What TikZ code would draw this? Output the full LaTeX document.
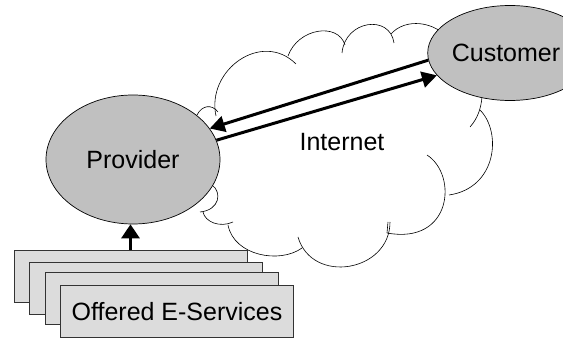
\documentclass[tikz,border=0pt]{standalone}
\usepackage{fontspec}
\setmainfont{Liberation Sans}
\usetikzlibrary{shapes.geometric,arrows.meta}
\definecolor{ellgray}{HTML}{C0C0C0}
\definecolor{boxgray}{HTML}{DCDCDC}
\begin{document}
\begin{tikzpicture}[x=1pt,y=-1pt,
  lbl/.style={font=\fontsize{25}{30}\selectfont},
  actor/.style={ellipse,draw=black,line width=0.7pt,fill=ellgray,inner sep=0pt,lbl},
  svcbox/.style={rectangle,draw=black!80,line width=0.8pt,fill=boxgray,minimum width=233pt,minimum height=52pt,inner sep=0pt,lbl},
  cloudline/.style={draw=black,line width=0.6pt},
  flow/.style={draw=black,line width=3pt,-{Triangle[length=15pt,width=16pt]}}]
\useasboundingbox (0,0) rectangle (563,339);
% cloud bumps
\draw[cloudline] (197,115) .. controls (202,105) and (212,104) .. (218,112);
\draw[cloudline] (216,116) .. controls (206,70) and (262,30) .. (296,64);
\draw[cloudline] (288,56) .. controls (298,28) and (338,22) .. (345,45);
\draw[cloudline] (342,53) .. controls (345,20) and (390,14) .. (394,43);
\draw[cloudline] (391,34) .. controls (405,18) and (435,20) .. (452,42);
\draw[cloudline] (482,97) .. controls (481,108) and (478,118) .. (470,127);
\draw[cloudline] (480,110) .. controls (502,132) and (497,188) .. (449,195);
\draw[cloudline] (427,155) .. controls (458,175) and (452,245) .. (387,233);
\draw[cloudline] (388,222) -- (387,233);
\draw[cloudline] (390,222) .. controls (390,272) and (312,285) .. (298,237);
\draw[cloudline] (302,248) .. controls (280,264) and (234,256) .. (228,225);
\draw[cloudline] (233,222) .. controls (220,228) and (205,222) .. (203,212);
\draw[cloudline] (212,185) .. controls (222,192) and (220,210) .. (200,212);
\draw[cloudline] (216,155) -- (219,160);
% actors
\node[actor,minimum width=174pt,minimum height=129pt] (prov) at (133,159.5) {Provider};
\node[actor,minimum width=132pt,minimum height=95pt] (cust) at (510,53) {\raisebox{-3pt}{Customer}\hspace*{8pt}};
\node[lbl] (inet) at (342,142) {Internet};
% arrows
\draw[flow] (cust.185) -- (prov.22);
\draw[flow] (prov.13) -- (cust.197);
% service boxes
\node[svcbox] (s1) at (130.5,276) {};
\node[svcbox] (s2) at (145.5,288) {};
\node[svcbox] (s3) at (162,298.5) {};
\node[svcbox] (s4) at (177,311.5) {Offered E-Services};
\draw[draw=black,line width=3pt,-{Triangle[length=14pt,width=18pt]}] (s1.north) -- (s1.north |- prov.south);
\end{tikzpicture}
\end{document}
